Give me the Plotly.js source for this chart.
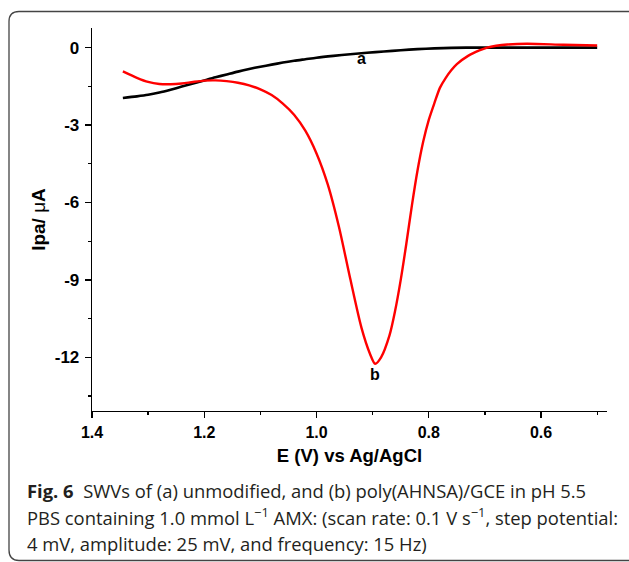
<!DOCTYPE html>
<html>
<head>
<meta charset="utf-8">
<script src="https://cdn.plot.ly/plotly-3.0.1.min.js"></script>
<style>html,body{margin:0;padding:0;background:#fff;}#chart{width:629px;height:562px;}</style>
</head>
<body>
<div id="chart"></div>
<script>
// Curve a: unmodified electrode
const E_a = [1.345, 1.32, 1.30, 1.28, 1.26, 1.24, 1.22, 1.20, 1.18, 1.16, 1.14, 1.12, 1.10, 1.08, 1.06, 1.04, 1.02, 1.00, 0.97, 0.94, 0.91, 0.88, 0.85, 0.82, 0.79, 0.76, 0.72, 0.60, 0.50];
const I_a = [-1.95, -1.89, -1.83, -1.74, -1.63, -1.51, -1.39, -1.27, -1.15, -1.04, -0.93, -0.83, -0.74, -0.66, -0.58, -0.51, -0.45, -0.39, -0.32, -0.26, -0.20, -0.15, -0.10, -0.06, -0.03, -0.01, 0.0, 0.0, 0.0];
// Curve b: poly(AHNSA)/GCE
const E_b = [1.345, 1.32, 1.30, 1.28, 1.26, 1.24, 1.22, 1.20, 1.18, 1.16, 1.14, 1.12, 1.10, 1.08, 1.06, 1.04, 1.02, 1.00, 0.98, 0.96, 0.94, 0.92, 0.905, 0.8955, 0.885, 0.87, 0.86, 0.85, 0.84, 0.83, 0.82, 0.81, 0.80, 0.79, 0.78, 0.77, 0.76, 0.75, 0.73, 0.71, 0.696, 0.68, 0.66, 0.625, 0.56, 0.50];
const I_b = [-0.92, -1.17, -1.33, -1.41, -1.42, -1.39, -1.33, -1.28, -1.27, -1.30, -1.36, -1.46, -1.62, -1.84, -2.17, -2.60, -3.22, -4.10, -5.30, -6.95, -8.95, -10.85, -11.85, -12.25, -12.0, -11.15, -10.2, -9.0, -7.6, -6.1, -4.75, -3.65, -2.8, -2.15, -1.55, -1.18, -0.88, -0.64, -0.32, -0.11, 0.0, 0.07, 0.12, 0.15, 0.11, 0.08];

const xTickVals = [1.4, 1.2, 1.0, 0.8, 0.6];
const xTickText = ['1.4', '1.2', '1.0', '0.8', '0.6'];
const yTickVals = [0, -3, -6, -9, -12];
const yTickText = ['0', '-3', '-6', '-9', '-12'];

const curveLabels = [
  {text: 'a', x: 0.919, y: -0.43},
  {text: 'b', x: 0.8955, y: -12.66}
];
const captionLines = [
  '<b>Fig. 6</b>  SWVs of (a) unmodified, and (b) poly(AHNSA)/GCE in pH 5.5',
  'PBS containing 1.0 mmol L<sup>−1</sup> AMX: (scan rate: 0.1 V s<sup>−1</sup>, step potential:',
  '4 mV, amplitude: 25 mV, and frequency: 15 Hz)'
];

const FONT = 'Liberation Sans, Arial, sans-serif';
const CAPFONT = 'Open Sans, Noto Sans, sans-serif';

const traces = [
  {x: E_a, y: I_a, type: 'scatter', mode: 'lines', line: {color: '#000000', width: 2.6, shape: 'spline', smoothing: 0.8}, hoverinfo: 'skip'},
  {x: E_b, y: I_b, type: 'scatter', mode: 'lines', line: {color: '#ff0000', width: 2.4, shape: 'spline', smoothing: 0.8}, hoverinfo: 'skip'}
];

// plot area: left 92, top 28, width 515, height 383
const capY = [490, 516.7, 543.3];
const annotations = curveLabels.map(l => ({
  x: l.x, y: l.y, xref: 'x', yref: 'y', text: l.text, showarrow: false,
  font: {family: FONT, size: 16, color: '#000', weight: 'bold'}
})).concat(captionLines.map((t, i) => ({
  x: (25 - 92) / 515, y: (411 - capY[i]) / 383, xref: 'paper', yref: 'paper',
  xanchor: 'left', yanchor: 'middle', text: t, showarrow: false, align: 'left',
  font: {family: CAPFONT, size: 18.4, color: '#231f20'}
})));

const layout = {
  width: 629, height: 562,
  margin: {l: 92, r: 22, t: 28, b: 151, pad: 0},
  paper_bgcolor: '#ffffff', plot_bgcolor: '#ffffff',
  showlegend: false,
  font: {family: FONT, color: '#000'},
  xaxis: {
    range: [1.4, 0.4825], showgrid: false, zeroline: false,
    showline: true, linecolor: '#000', linewidth: 1.3,
    ticks: 'outside', ticklen: 6, tickwidth: 1.3, tickcolor: '#000',
    tickmode: 'array', tickvals: xTickVals, ticktext: xTickText,
    tickfont: {family: FONT, size: 16, color: '#000', weight: 'bold'},
    ticklabelstandoff: 0,
    minor: {tickmode: 'linear', tick0: 0.5, dtick: 0.2, ticks: 'outside', ticklen: 3, tickwidth: 1.3, tickcolor: '#000', showgrid: false},
    title: {text: 'E (V) vs Ag/AgCl', standoff: 9, font: {family: FONT, size: 18.5, color: '#000', weight: 'bold'}}
  },
  yaxis: {
    range: [-14.08, 0.76], showgrid: false, zeroline: false,
    showline: true, linecolor: '#000', linewidth: 1.3,
    ticks: 'outside', ticklen: 6, tickwidth: 1.3, tickcolor: '#000',
    tickmode: 'array', tickvals: yTickVals, ticktext: yTickText,
    tickfont: {family: FONT, size: 17, color: '#000', weight: 'bold'},
    ticklabelstandoff: 2,
    minor: {tickmode: 'linear', tick0: -1.5, dtick: 3, ticks: 'outside', ticklen: 3, tickwidth: 1.3, tickcolor: '#000', showgrid: false},
    title: {text: "Ipa/ <span style='font-weight:normal'>μ</span>A", standoff: 4, font: {family: FONT, size: 19, color: '#000', weight: 'bold'}}
  },
  annotations: annotations,
  shapes: [{
    type: 'path', xref: 'paper', yref: 'paper',
    xsizemode: 'pixel', ysizemode: 'pixel', xanchor: 0, yanchor: 0,
    path: 'M 560,399.5 L -73,399.5 Q -83,399.5 -83,389.5 L -83,-139 Q -83,-149.5 -73,-149.5 L 560,-149.5',
    line: {color: '#444444', width: 1.3}, layer: 'below'
  }]
};

Plotly.newPlot('chart', traces, layout, {displayModeBar: false, staticPlot: true});
</script>
</body>
</html>
